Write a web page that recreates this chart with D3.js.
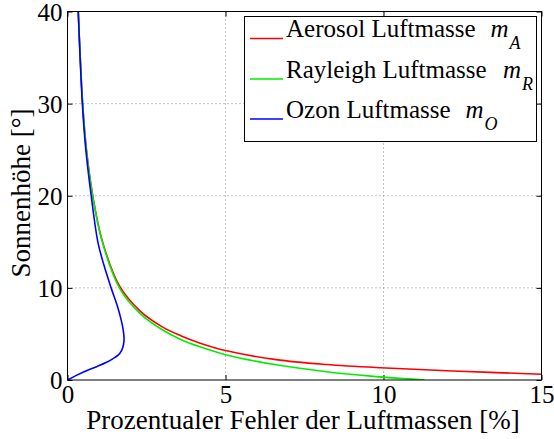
<!DOCTYPE html>
<html><head><meta charset="utf-8">
<script src="https://cdn.jsdelivr.net/npm/d3@7/dist/d3.min.js"></script>
<style>body{margin:0;background:#fff}svg{display:block}</style>
</head><body><svg id="c" width="554" height="439"></svg>
<script>
// Data: [error %, solar elevation deg]
const aerosolErr  = [0.34,0.48,0.60,0.80,1.10,1.65,2.30,3.00,3.60,4.20,5.00,6.60,8.20,9.90,12.2,15.0];
const aerosolElev = [40,30,25,20,15.1,10.18,7.48,5.77,4.78,4.0,3.2,2.21,1.68,1.33,0.98,0.62];
const rayleighErr  = [0.34,0.48,0.60,0.80,1.10,1.65,2.30,3.00,3.60,4.20,5.00,6.60,8.20,9.60,11.3];
const rayleighElev = [40,30,24.9,19.9,15.0,9.95,7.2,5.45,4.38,3.6,2.75,1.65,0.9,0.42,0];
const ozonErr  = [0.34,0.47,0.58,0.75,0.96,1.15,1.38,1.58,1.70,1.76,1.79,1.77,1.71,1.60,1.43,1.22,0.92,0.60,0.28,0];
const ozonElev = [40,30,25,20,15,12.5,10,8,6.5,5.5,4.5,3.8,3.2,2.7,2.3,1.9,1.45,1.0,0.5,0];
const xTicks = [0,5,10,15];
const yTicks = [0,10,20,30,40];
const seriesNames = ["Aerosol Luftmasse", "Rayleigh Luftmasse", "Ozon Luftmasse"];
const seriesSubs = ["A","R","O"];
const seriesColors = ["#ff0000","#00ee00","#0000ff"];
const xLabel = "Prozentualer Fehler der Luftmassen [%]";
const yLabel = "Sonnenhöhe [°]";

const FONT = "'Liberation Serif','Times New Roman',Times,'DejaVu Serif',serif";
const svg = d3.select("#c").style("font-family", FONT);
const L=67.5, R=541.5, T=11.5, B=380;
const x = d3.scaleLinear().domain([0,15]).range([L,R]);
const y = d3.scaleLinear().domain([0,40]).range([B,T]);

// grid
const g = svg.append("g");
g.selectAll(".gx").data(xTicks.slice(1,-1)).join("line")
  .attr("x1",d=>x(d)).attr("x2",d=>x(d)).attr("y1",T).attr("y2",B)
  .attr("stroke","#888").attr("stroke-width",1).attr("stroke-dasharray","1,3");
g.selectAll(".gy").data(yTicks.slice(1,-1)).join("line")
  .attr("y1",d=>y(d)).attr("y2",d=>y(d)).attr("x1",L).attr("x2",R)
  .attr("stroke","#888").attr("stroke-width",1).attr("stroke-dasharray","1,3");

// axes (inner ticks)
const fs = 25;
const ax = svg.append("g").attr("transform",`translate(0,${B})`)
  .call(d3.axisBottom(x).tickValues(xTicks).tickSize(-5).tickPadding(8).tickFormat(d3.format("d")));
const axT = svg.append("g").attr("transform",`translate(0,${T})`)
  .call(d3.axisTop(x).tickValues(xTicks).tickSize(-5).tickFormat(""));
const ay = svg.append("g").attr("transform",`translate(${L},0)`)
  .call(d3.axisLeft(y).tickValues(yTicks).tickSize(-5).tickPadding(5).tickFormat(d3.format("d")));
const ayR = svg.append("g").attr("transform",`translate(${R},0)`)
  .call(d3.axisRight(y).tickValues(yTicks).tickSize(-5).tickFormat(""));
[ax,axT,ay,ayR].forEach(a=>{
  a.attr("font-family",null).attr("font-size",null);
  a.select(".domain").remove();
  a.selectAll(".tick line").attr("stroke","#000");
  a.selectAll("text").attr("fill","#000").style("font-size",fs+"px").style("font-family",FONT);
});
ax.selectAll("text").attr("dy","0.6em");
ay.selectAll("text").attr("dy","0.35em");

// curves
const line = d3.line().x(d=>x(d[0])).y(d=>y(d[1])).curve(d3.curveCatmullRom.alpha(0.5));
const series = [
  d3.zip(aerosolErr, aerosolElev),
  d3.zip(rayleighErr, rayleighElev),
  d3.zip(ozonErr, ozonElev)
];
svg.append("defs").append("clipPath").attr("id","clip").append("rect")
  .attr("x",L).attr("y",T).attr("width",R-L).attr("height",B-T);
svg.append("g").attr("clip-path","url(#clip)").selectAll("path").data(series).join("path")
  .attr("d",line).attr("fill","none").attr("stroke",(d,i)=>seriesColors[i]).attr("stroke-width",1.6);

// frame
svg.append("rect").attr("x",L).attr("y",T).attr("width",R-L).attr("height",B-T)
  .attr("fill","none").attr("stroke","#000").attr("stroke-width",1);

// legend
const lg = svg.append("g");
lg.append("rect").attr("x",244.5).attr("y",16.5).attr("width",292).attr("height",125)
  .attr("fill","#fff").attr("stroke","#000").attr("stroke-width",1);
const rowY = [38.5,79,119];
const mX = [490.5,503,465.5];
seriesNames.forEach((n,i)=>{
  lg.append("line").attr("x1",250).attr("x2",283).attr("y1",rowY[i]).attr("y2",rowY[i])
    .attr("stroke",seriesColors[i]).attr("stroke-width",1.5);
  lg.append("text").attr("x",286).attr("y",rowY[i]-1.5).style("font-size",fs+"px").style("font-family",FONT).attr("fill","#000").text(n);
  const t = lg.append("text").attr("x",mX[i]).attr("y",rowY[i]-1.5).style("font-size",fs+"px").style("font-family",FONT).attr("fill","#000").attr("font-style","italic");
  t.append("tspan").text("m");
  t.append("tspan").attr("dx",1).attr("dy",12).style("font-size","18px").text(seriesSubs[i]);
});

// axis labels
svg.append("text").attr("x",303).attr("y",429).attr("text-anchor","middle")
  .style("font-size","27px").style("font-family",FONT).attr("fill","#000").text(xLabel);
svg.append("text").attr("transform",`translate(30,193) rotate(-90)`).attr("text-anchor","middle")
  .style("font-size","27px").style("font-family",FONT).attr("fill","#000").text(yLabel);
</script></body></html>
